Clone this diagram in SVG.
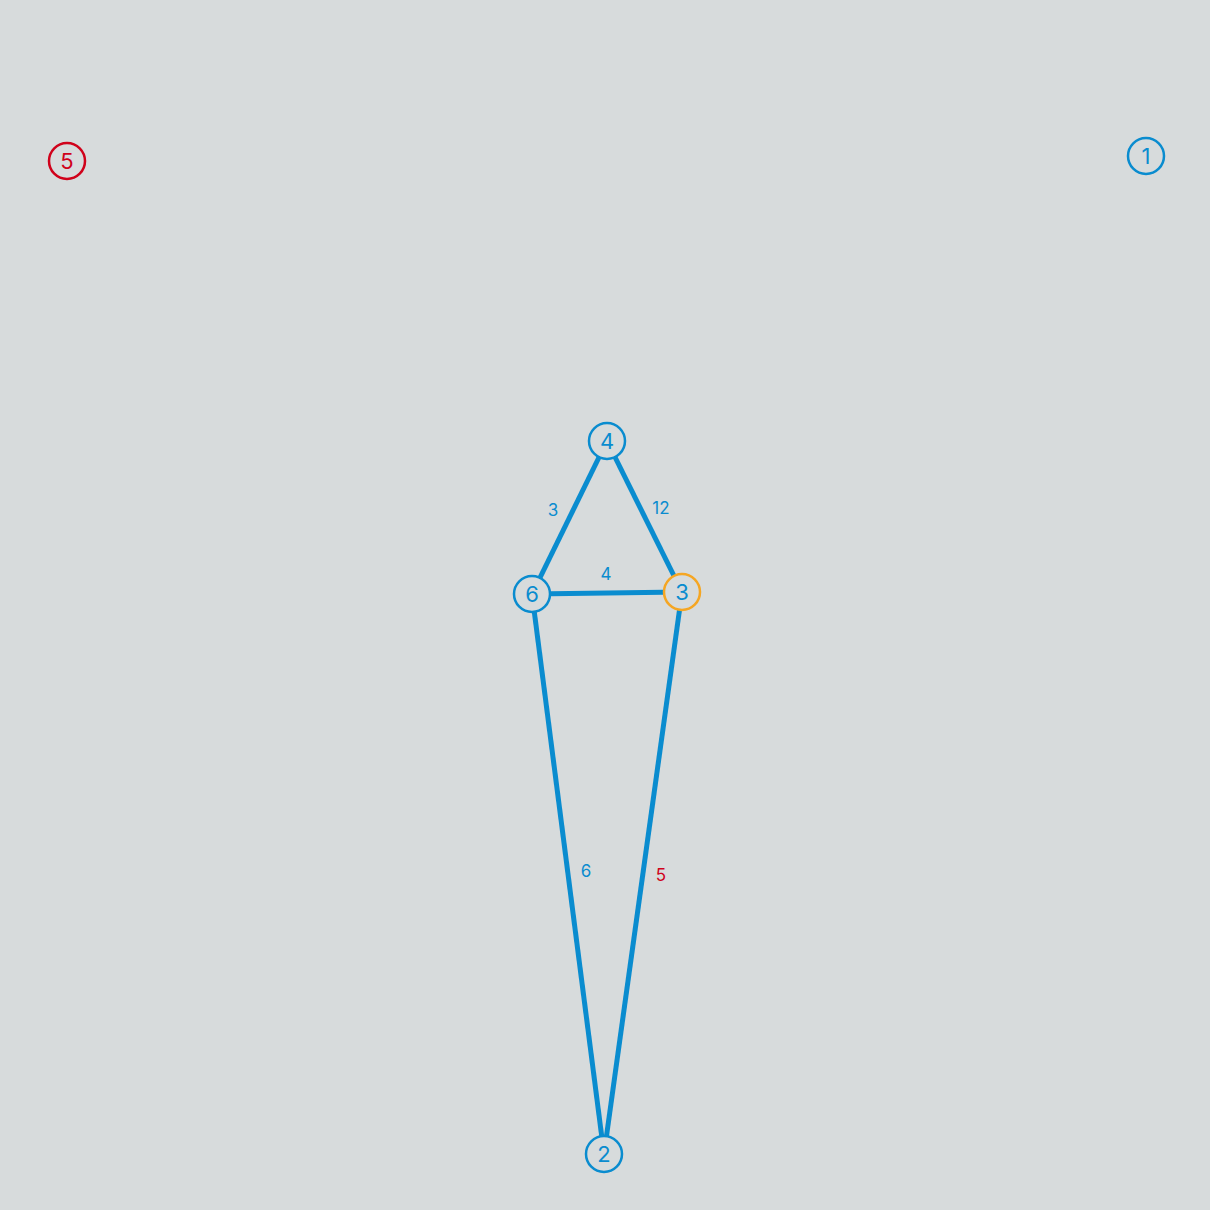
<svg xmlns="http://www.w3.org/2000/svg" width="1210" height="1210" viewBox="0 0 1210 1210">
<style>
.bg{fill:#d7dbdc}
.edge{stroke:#0a8ccf;stroke-width:5;fill:none;stroke-linecap:butt}
.node circle{fill:#d7dbdc;stroke:#0a8ccf;stroke-width:2.5}
.node text{fill:#0a8ccf;font-family:"Inter","Liberation Sans",sans-serif;font-size:22px;text-anchor:middle;dominant-baseline:central}
.node.red circle{stroke:#d0021b}
.node.red text{fill:#d0021b}
.node.orange circle{stroke:#f5a623}
.lbl{fill:#0a8ccf;font-family:"Inter","Liberation Sans",sans-serif;font-size:17px;text-anchor:middle;dominant-baseline:central}
.lbl.red{fill:#d0021b}
</style>
<rect class="bg" x="0" y="0" width="1210" height="1210"/>
<g id="connectors">
<line class="edge" x1="607" y1="441" x2="532" y2="594"/>
<line class="edge" x1="607" y1="441" x2="682" y2="592"/>
<line class="edge" x1="532" y1="594" x2="682" y2="592"/>
<line class="edge" x1="532" y1="594" x2="604" y2="1154"/>
<line class="edge" x1="682" y1="592" x2="604" y2="1154"/>
<text class="lbl" x="553" y="510">3</text>
<text class="lbl" x="661" y="508">12</text>
<text class="lbl" x="606" y="574">4</text>
<text class="lbl" x="586" y="871">6</text>
<text class="lbl red" x="661" y="875">5</text>
</g>
<g id="node5" class="node red"><circle cx="67" cy="161" r="18"/><text x="67" y="161">5</text></g>
<g id="node1" class="node"><circle cx="1146" cy="156" r="18"/><text x="1146" y="156">1</text></g>
<g id="node4" class="node"><circle cx="607" cy="441" r="18"/><text x="607" y="441">4</text></g>
<g id="node6" class="node"><circle cx="532" cy="594" r="18"/><text x="532" y="594">6</text></g>
<g id="node3" class="node orange"><circle cx="682" cy="592" r="18"/><text x="682" y="592">3</text></g>
<g id="node2" class="node"><circle cx="604" cy="1154" r="18"/><text x="604" y="1154">2</text></g>
</svg>
